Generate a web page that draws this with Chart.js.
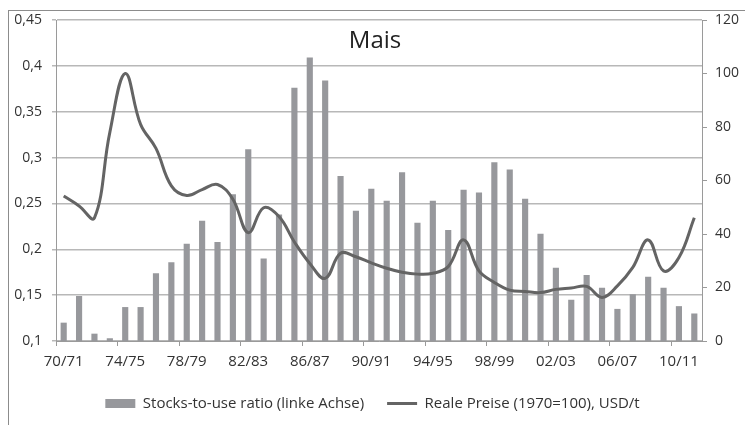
<!DOCTYPE html>
<html>
<head>
<meta charset="utf-8">
<title>Mais</title>
<script src="https://cdn.jsdelivr.net/npm/chart.js@4.4.0/dist/chart.umd.min.js"></script>
<style>
  html, body { margin: 0; padding: 0; background: #fff; }
  #wrap { position: relative; width: 745px; height: 425px; overflow: hidden; }
  #frame {
    position: absolute; left: 8px; top: 10px; width: 800px; height: 500px;
    border-top: 1px solid #8c8c8c; border-left: 1px solid #8c8c8c;
    pointer-events: none;
  }
</style>
</head>
<body>
<div id="wrap">
  <canvas id="chart" width="745" height="425"></canvas>
  <div id="frame"></div>
</div>
<script>
const TITLE = 'Mais';

const CATEGORIES = [
    '70/71', '71/72', '72/73', '73/74', '74/75', '75/76', '76/77', '77/78', '78/79', '79/80',
    '80/81', '81/82', '82/83', '83/84', '84/85', '85/86', '86/87', '87/88', '88/89', '89/90',
    '90/91', '91/92', '92/93', '93/94', '94/95', '95/96', '96/97', '97/98', '98/99', '99/00',
    '00/01', '01/02', '02/03', '03/04', '04/05', '05/06', '06/07', '07/08', '08/09', '09/10',
    '10/11', '11/12'
];

// Stocks-to-use ratio (left axis)
const STOCKS_TO_USE = [
    0.12, 0.149, 0.108, 0.103, 0.137, 0.137, 0.174, 0.186, 0.206, 0.231,
    0.208, 0.26, 0.309, 0.19, 0.238, 0.376, 0.409, 0.384, 0.28, 0.242,
    0.266, 0.253, 0.284, 0.229, 0.253, 0.221, 0.265, 0.262, 0.295, 0.287,
    0.255, 0.217, 0.18, 0.145, 0.172, 0.158, 0.135, 0.151, 0.17, 0.158,
    0.138, 0.13
];

// Real prices (1970=100), USD/t (right axis)
const REAL_PRICES = [
    54.2, 50.5, 46, 78, 100, 81, 72, 58, 54.4, 56.6,
    58.5, 53, 40.5, 49.8, 46.5, 37, 29, 23.4, 32.8, 31.5,
    29.2, 27.2, 25.7, 25, 25.3, 27.8, 37.8, 26.2, 21.9, 19,
    18.5, 18.1, 19.3, 19.8, 20.4, 16.3, 20.6, 27.5, 37.8, 26.2,
    31.2, 46.1
];

const X_TICK_LABELS = ['70/71', '74/75', '78/79', '82/83', '86/87', '90/91', '94/95', '98/99', '02/03', '06/07', '10/11'];
const LEFT_TICKS = [0.1, 0.15, 0.2, 0.25, 0.3, 0.35, 0.4, 0.45];
const RIGHT_TICKS = [0, 20, 40, 60, 80, 100, 120];

const FONT = '"Open Sans", "Liberation Sans", sans-serif';
const TEXT = '#333333';
const AXIS = '#9a9a9a';

const innerTitle = {
    id: 'innerTitle',
    afterDraw(chart) {
        const CTX = chart.ctx;
        const AREA = chart.chartArea;
        CTX.save();
        CTX.font = '24px ' + FONT;
        CTX.fillStyle = '#222222';
        CTX.textAlign = 'center';
        CTX.textBaseline = 'alphabetic';
        CTX.fillText(TITLE, (AREA.left + AREA.right) / 2 - 4, AREA.top + 28);
        CTX.restore();
    }
};

function commaFormat(v) {
    return String(Math.round(v * 100) / 100).replace('.', ',');
}

function draw() {
    const CTX = document.getElementById('chart').getContext('2d');
    new Chart(CTX, {
        type: 'bar',
        data: {
            labels: CATEGORIES,
            datasets: [
                {
                    type: 'bar',
                    label: 'Stocks-to-use ratio (linke Achse)',
                    data: STOCKS_TO_USE,
                    yAxisID: 'y',
                    backgroundColor: '#97989c',
                    borderWidth: 0,
                    categoryPercentage: 1,
                    barPercentage: 0.4,
                    pointStyle: 'rect',
                    order: 1
                },
                {
                    type: 'line',
                    label: 'Reale Preise (1970=100), USD/t',
                    data: REAL_PRICES,
                    yAxisID: 'y1',
                    borderColor: '#646464',
                    backgroundColor: '#646464',
                    borderWidth: 3,
                    tension: 0.4,
                    pointRadius: 0,
                    pointStyle: 'line',
                    fill: false,
                    order: 0
                }
            ]
        },
        options: {
            responsive: false,
            animation: false,
            layout: { padding: { left: 0, right: 0, top: 20, bottom: 4 } },
            plugins: {
                legend: {
                    position: 'bottom',
                    labels: {
                        usePointStyle: true,
                        pointStyleWidth: 30,
                        boxHeight: 9,
                        padding: 23,
                        color: TEXT,
                        font: { family: FONT, size: 15 },
                        sort: (a, b) => a.datasetIndex - b.datasetIndex
                    }
                },
                tooltip: { enabled: false }
            },
            scales: {
                x: {
                    offset: true,
                    grid: {
                        offset: true,
                        drawOnChartArea: false,
                        tickLength: 5,
                        color: (c) => (c.index % 4 === 0 ? AXIS : 'rgba(0,0,0,0)')
                    },
                    border: { color: AXIS, width: 1 },
                    ticks: {
                        autoSkip: false,
                        maxRotation: 0,
                        padding: 7,
                        color: TEXT,
                        font: { family: FONT, size: 15 },
                        callback: (v, i) => (X_TICK_LABELS.includes(CATEGORIES[i]) ? CATEGORIES[i] : '')
                    },
                    afterFit: (s) => { s.height = 32; }
                },
                y: {
                    position: 'left',
                    min: 0.1,
                    max: 0.45,
                    afterBuildTicks: (s) => { s.ticks = LEFT_TICKS.map((v) => ({ value: v })); },
                    grid: { color: '#b8b8b8', lineWidth: 1.5, tickLength: 4 },
                    border: { color: AXIS, width: 1 },
                    ticks: {
                        padding: 10,
                        color: TEXT,
                        font: { family: FONT, size: 14 },
                        callback: commaFormat
                    },
                    afterFit: (s) => { s.width = 56; }
                },
                y1: {
                    position: 'right',
                    min: 0,
                    max: 120,
                    afterBuildTicks: (s) => { s.ticks = RIGHT_TICKS.map((v) => ({ value: v })); },
                    grid: { drawOnChartArea: false, color: AXIS, tickLength: 5 },
                    border: { color: AXIS, width: 1 },
                    ticks: {
                        padding: 8,
                        color: TEXT,
                        font: { family: FONT, size: 14 }
                    },
                    afterFit: (s) => { s.width = 43; }
                }
            }
        },
        plugins: [innerTitle]
    });
}

document.fonts.load('15px "Open Sans"').then(draw, draw);
</script>
</body>
</html>
